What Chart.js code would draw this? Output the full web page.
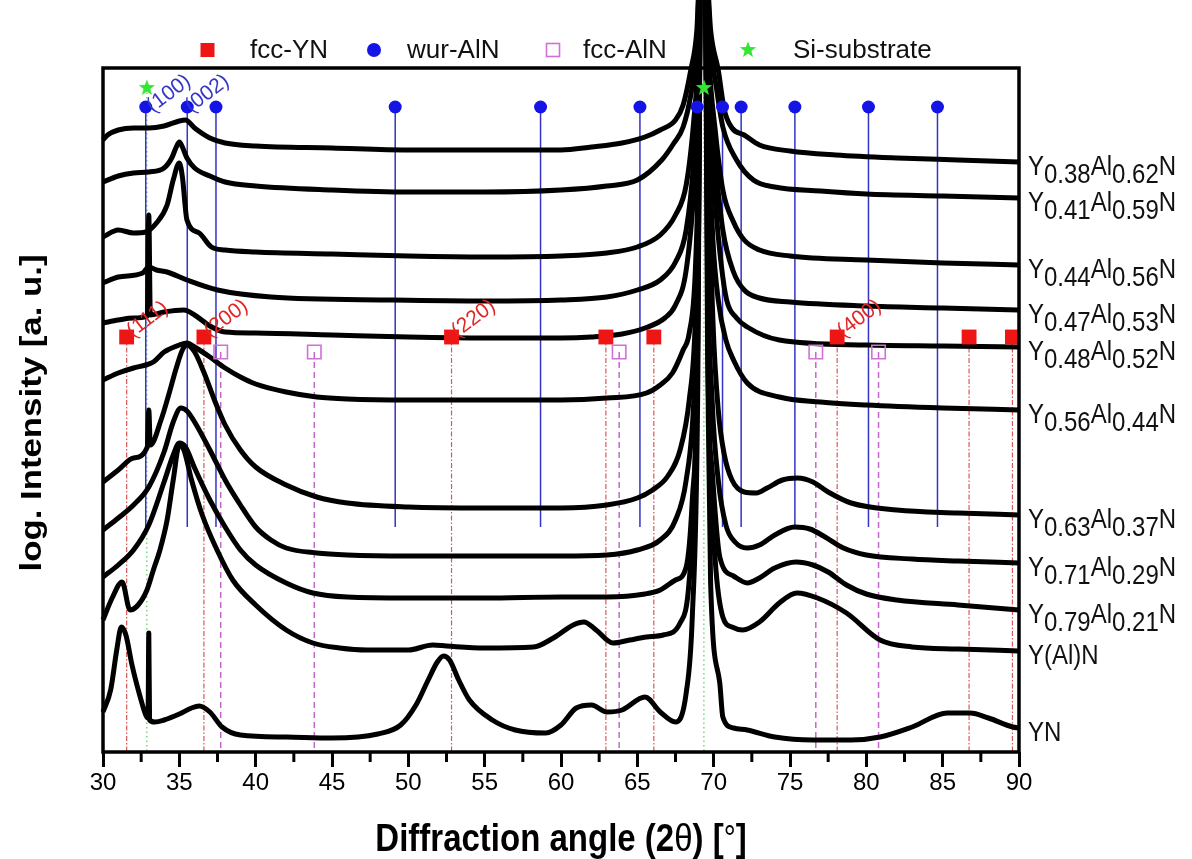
<!DOCTYPE html>
<html>
<head>
<meta charset="utf-8">
<title>XRD patterns of Y-Al-N films</title>
<script src="https://cdn.jsdelivr.net/npm/chart.js@4.4.1/dist/chart.umd.min.js"></script>
<style>
  html, body { margin: 0; padding: 0; background: #fff; }
  canvas { display: block; }
</style>
</head>
<body>
<canvas id="xrd" width="1192" height="859" style="width:1192px;height:859px"></canvas>
<script>
// ---- diffraction patterns: [2theta (deg), log intensity (a.u., offset per film)] ----
const y038 = [[30,612],[30.3,617],[31,622],[32,624],[33,624],[34,626],[35,631],[35.4,632],[36,624],[37,614],[38,609],[40,606],[45,604],[50,602],[55,602],[60,602],[62,605],[64,609],[65.5,615],[66.5,622],[67.5,632],[68.0,647],[68.5,682],[68.9,722],[69.15,800],[69.45,800],[69.8,722],[70.3,682],[70.7,642],[71.2,624],[72,617],[73,607],[75,601],[78,597],[82,594],[86,592],[90,590]];
const y041 = [[30,570],[31,576],[32,579],[33,580],[34,584],[34.5,594],[34.8,605],[35.0,610],[35.2,605],[35.5,594],[36,584],[37,576],[38,570],[40,566],[45,562],[50,560],[55,560],[60,562],[63,566],[65,572],[66.6,592],[67.4,609],[68.0,625],[68.5,657],[68.9,707],[69.15,800],[69.45,800],[69.8,707],[70.2,662],[70.6,625],[71.5,592],[72.6,572],[74,565],[77,561],[80,558],[85,556],[90,554]];
const y044 = [[30,515],[31,522],[32,519],[32.8,520],[33.5,529],[34.2,547],[34.6,572],[35.0,589],[35.2,575],[35.5,532],[36.3,519],[37.1,505],[38,502],[40,500],[45,498],[50,496],[55,495],[60,496],[63,499],[65,505],[66.5,517],[67.5,537],[68.2,567],[68.7,632],[69.0,702],[69.15,800],[69.45,800],[69.7,692],[70.1,622],[70.6,562],[71.3,530],[72,512],[73,502],[75,496],[80,492],[85,489],[90,487]];
const y047 = [[30,469],[31,475],[32.6,479],[33,485],[33.5,482],[34.2,480],[35.5,472],[37.5,462],[41,455],[49,452],[55,451],[60,452],[63,455],[65,462],[66.5,472],[67.5,490],[68.2,522],[68.7,592],[69.0,682],[69.15,800],[69.45,800],[69.7,672],[70.1,592],[70.6,522],[71.3,480],[72,462],[73,454],[75,450],[80,446],[85,444],[90,442]];
const y048 = [[30,429],[31,432],[32,434],[32.9,436],[33.0,537],[33.1,437],[34,440],[35.3,442],[36,437],[37,426],[38,420],[40,419],[45,417],[50,415],[55,414],[60,414],[62,415],[64,418],[65.5,424],[66.8,434],[67.5,447],[68.2,482],[68.7,562],[69.0,662],[69.15,800],[69.45,800],[69.7,652],[70.1,552],[70.5,487],[70.85,452],[71.5,434],[72.2,425],[74.3,412],[80,407],[85,406],[90,405]];
const y056 = [[30,372],[31,379],[32,384],[32.8,387],[33.3,390],[34,400],[35,407],[35.5,409],[36,405],[37,395],[38,384],[39,375],[40,368],[42,360],[44,355],[46,353],[50,352],[55,352],[60,352],[63,354],[65.6,359],[66.5,367],[67.3,379],[68.0,402],[68.4,419],[68.8,482],[69.05,632],[69.15,800],[69.45,800],[69.65,632],[69.95,512],[70.3,452],[70.8,412],[71.3,392],[72.2,369],[74.3,355],[77,350],[80,347],[85,344],[90,342]];
const y063 = [[30,270],[31,282],[32,294],[32.9,305],[33.0,342],[33.1,307],[33.8,332],[34.3,357],[34.8,384],[35.2,402],[35.5,407],[36,400],[36.6,380],[37.3,352],[38,327],[39,302],[40,285],[42,267],[44,255],[46,249],[50,245],[55,244],[60,244],[63,247],[65,254],[66,262],[67,276],[67.8,302],[68.4,352],[68.8,432],[69.05,602],[69.15,800],[69.45,800],[69.65,602],[69.95,432],[70.3,342],[70.7,297],[71.2,272],[72,260],[72.8,259],[73.5,264],[74.5,272],[75.5,274],[76.5,270],[77.5,260],[79,249],[82,242],[86,239],[90,237]];
const y071 = [[30,222],[31,234],[32,247],[33,265],[34,300],[34.6,330],[35.1,344],[35.5,341],[36,330],[37,302],[38,272],[39,247],[40,225],[41,212],[42,204],[44,199],[46,197],[50,196],[55,196],[60,196],[63,197],[65,202],[66.5,212],[67.5,232],[68.2,272],[68.7,352],[69.0,502],[69.15,800],[69.45,800],[69.6,502],[69.9,352],[70.3,272],[70.8,227],[71.4,210],[72.2,204],[73,207],[74,217],[75.3,225],[76.3,223],[77.3,215],[78.5,204],[80,197],[83,193],[86,191],[90,189]];
const y079 = [[30,175],[31,187],[32,202],[33,227],[34,270],[34.6,297],[35.0,309],[35.4,305],[36,284],[37,252],[38,225],[39,202],[40,187],[42,169],[43.75,159],[46,155],[50,154],[55,154],[60,155],[63,155],[65.5,158],[66.5,162],[67.5,172],[68.2,185],[68.6,252],[68.95,402],[69.15,800],[69.45,800],[69.6,402],[69.9,282],[70.4,195],[71.3,176],[72.2,169],[73,174],[74,184],[75.4,190],[76.5,187],[77.5,180],[78.7,167],[80,158],[82,152],[86,147],[90,142]];
const yAlN = [[30,132],[30.6,154],[31.25,170],[31.77,142],[32.3,147],[32.88,162],[33.3,182],[33.73,202],[34.2,232],[34.6,272],[35.0,307],[35.3,302],[35.8,272],[36.5,237],[37.47,202],[38.5,172],[40,147],[42,122],[43.75,109],[45.5,104],[47.3,102],[50,102],[51.6,107],[52.5,106],[55,104],[58.2,105],[59.5,114],[60.8,127],[61.5,130],[62.3,122],[63.4,109],[64.5,112],[65.6,115],[66.7,117],[67.8,129],[68.4,172],[68.8,302],[69.15,800],[69.45,800],[69.7,332],[70.1,192],[70.6,135],[71.2,125],[71.9,122],[73,130],[74.3,149],[75.45,159],[76.8,154],[78.7,139],[80.9,112],[83,105],[86,103],[90,101]];
const yYN = [[30,40],[30.5,62],[30.9,102],[31.2,125],[31.5,117],[31.9,87],[32.4,57],[32.8,37],[32.95,34],[33.0,119],[33.05,32],[33.4,30],[34,32],[35,38],[35.8,44],[36.3,46],[37,40],[37.8,25],[39,17],[42,15],[45,14],[48,18],[49.5,27],[50.5,47],[51.3,72],[51.9,90],[52.3,96],[52.7,92],[53.3,72],[54,52],[55.5,32],[57,22],[59,19],[60,27],[61,44],[62,47],[63,40],[64,42],[65.5,55],[66.5,40],[67.5,30],[68.2,59],[68.6,135],[68.95,352],[69.15,800],[69.45,800],[69.65,332],[69.8,169],[70.4,69],[70.6,35],[71.3,24],[72.2,22],[74,15],[76.5,12],[79,12],[80.9,15],[83,25],[85.3,39],[86.8,39],[88,34],[89.6,25],[90,24]];

const patterns = [y038, y041, y044, y047, y048, y056, y063, y071, y079, yAlN, yYN];

// film names, as [text, isSubscript] runs
const filmNames = [
  [['Y',0],['0.38',1],['Al',0],['0.62',1],['N',0]],
  [['Y',0],['0.41',1],['Al',0],['0.59',1],['N',0]],
  [['Y',0],['0.44',1],['Al',0],['0.56',1],['N',0]],
  [['Y',0],['0.47',1],['Al',0],['0.53',1],['N',0]],
  [['Y',0],['0.48',1],['Al',0],['0.52',1],['N',0]],
  [['Y',0],['0.56',1],['Al',0],['0.44',1],['N',0]],
  [['Y',0],['0.63',1],['Al',0],['0.37',1],['N',0]],
  [['Y',0],['0.71',1],['Al',0],['0.29',1],['N',0]],
  [['Y',0],['0.79',1],['Al',0],['0.21',1],['N',0]],
  [['Y(Al)N',0]],
  [['YN',0]]
];

// ---- reference reflections (2theta, deg) ----
const wurAlnPos = [32.80, 35.52, 37.40, 49.14, 58.66, 65.17, 68.92, 70.58, 71.80, 75.32, 80.14, 84.66];
const fccYnPos  = [31.55, 36.61, 52.83, 62.94, 66.08, 78.09, 86.73, 89.57];
const fccAlnPos = [37.71, 43.84, 63.81, 76.69, 80.80];
const siPos     = [32.87, 69.36];

// marker heights on the intensity axis
const wurAlnLevel = 645, wurAlnFloor = 225;
const fccYnLevel = 415, fccAlnLevel = 400, siLevel = 664;

// Miller indices written next to selected reflections
const wurAlnHkl = [['(100)', 32.80], ['(002)', 35.52]];
const fccYnHkl  = [['(111)', 31.55], ['(200)', 36.61], ['(220)', 52.83], ['(400)', 78.09]];

const legendNames = ['fcc-YN', 'wur-AlN', 'fcc-AlN', 'Si-substrate'];

const FONT = "'Liberation Sans', Arial, Helvetica, sans-serif";
const BLUE = '#1414e6', RED = '#ee1515', PINK = '#d070d8', GREEN = '#33e633';

function makeStar(size, color) {
  const c = document.createElement('canvas');
  c.width = c.height = size;
  const g = c.getContext('2d');
  const cx = size / 2, cy = size / 2, R = size / 2 - 0.5, r = R * 0.42;
  g.beginPath();
  for (let i = 0; i < 10; i++) {
    const a = -Math.PI / 2 + i * Math.PI / 5;
    const rad = i % 2 ? r : R;
    g.lineTo(cx + rad * Math.cos(a), cy + rad * Math.sin(a));
  }
  g.closePath();
  g.fillStyle = color;
  g.fill();
  return c;
}
const starImg = makeStar(18, GREEN);

// vertical drop lines: top -> floor, separated by gaps
function stems(positions, top, floor) {
  const d = [];
  positions.forEach(p => { d.push([p, top], [p, floor], [p, null]); });
  return d;
}

const datasets = [];

patterns.forEach(d => datasets.push({
  data: d, showLine: true, borderColor: '#000', borderWidth: 5,
  pointRadius: 0, cubicInterpolationMode: 'monotone', clip: false,
  borderJoinStyle: 'round', order: 1
}));

datasets.push(
  { data: stems(wurAlnPos, wurAlnLevel, wurAlnFloor), showLine: true, spanGaps: false,
    borderColor: '#3434c4', borderWidth: 1.5, pointRadius: 0, order: 2 },
  { data: stems(fccYnPos, fccYnLevel, 0), showLine: true, spanGaps: false,
    borderColor: 'rgba(214,70,70,0.9)', borderWidth: 1.2, borderDash: [5, 2, 1.5, 2], pointRadius: 0, order: 2 },
  { data: stems(fccAlnPos, fccAlnLevel, 0), showLine: true, spanGaps: false,
    borderColor: '#c566cc', borderWidth: 1.5, borderDash: [6, 4], pointRadius: 0, order: 2 },
  { data: stems(siPos, siLevel, 0), showLine: true, spanGaps: false,
    borderColor: '#55cc55', borderWidth: 1.2, borderDash: [1.5, 3], pointRadius: 0, order: 2 }
);

datasets.push(
  { data: wurAlnPos.map(p => [p, wurAlnLevel]), showLine: false, pointStyle: 'circle',
    pointRadius: 6.5, backgroundColor: BLUE, borderWidth: 0, clip: false, order: 0 },
  { data: fccYnPos.map(p => [p, fccYnLevel]), showLine: false, pointStyle: 'rect',
    pointRadius: 10.5, backgroundColor: RED, borderWidth: 0, clip: false, order: 0 },
  { data: fccAlnPos.map(p => [p, fccAlnLevel]), showLine: false, pointStyle: 'rect',
    pointRadius: 9.5, backgroundColor: 'rgba(255,255,255,0)', borderColor: PINK, borderWidth: 1.6, clip: false, order: 0 },
  { data: siPos.map(p => [p, siLevel]), showLine: false, pointStyle: starImg,
    pointRadius: 9, clip: false, order: 0 }
);

function runs(ctx, parts, x, y, subDy) {
  let cx = x;
  parts.forEach(([t, sub]) => {
    ctx.fillText(t, cx, y + (sub ? subDy : 0));
    cx += ctx.measureText(t).width;
  });
  return cx;
}

const decor = {
  id: 'decor',
  afterDraw(chart) {
    const ctx = chart.ctx;
    const a = chart.chartArea;
    const xs = chart.scales.x, ys = chart.scales.y;

    // frame
    ctx.save();
    ctx.strokeStyle = '#000';
    ctx.lineWidth = 3.5;
    ctx.strokeRect(a.left, a.top, a.right - a.left, a.bottom - a.top);

    // minor ticks
    ctx.lineWidth = 3;
    for (let v = 32.5; v < 90; v += 5) {
      const px = xs.getPixelForValue(v);
      ctx.beginPath();
      ctx.moveTo(px, a.bottom);
      ctx.lineTo(px, a.bottom + 10);
      ctx.stroke();
    }
    ctx.restore();

    // legend row above the frame
    ctx.save();
    ctx.font = '26px ' + FONT;
    ctx.fillStyle = '#111';
    ctx.textBaseline = 'middle';
    const ly = 50;
    ctx.fillStyle = RED; ctx.fillRect(200.5, ly - 7, 14, 14);
    ctx.fillStyle = BLUE; ctx.beginPath(); ctx.arc(374, ly, 7, 0, Math.PI * 2); ctx.fill();
    ctx.strokeStyle = PINK; ctx.lineWidth = 1.6; ctx.strokeRect(546.5, ly - 6.5, 13, 13);
    ctx.drawImage(starImg, 748 - 9, ly - 9);
    ctx.fillStyle = '#111';
    const lx = [250, 407, 583, 793];
    legendNames.forEach((t, i) => ctx.fillText(t, lx[i], ly + 1));
    ctx.restore();

    // axis titles
    ctx.save();
    ctx.fillStyle = '#000';
    ctx.font = 'bold 30px ' + FONT;
    ctx.translate(33, (a.top + a.bottom) / 2 + 3);
    ctx.rotate(-Math.PI / 2);
    ctx.scale(1.16, 1);
    ctx.textAlign = 'center';
    ctx.textBaseline = 'middle';
    ctx.fillText('log. Intensity [a. u.]', 0, 0);
    ctx.restore();

    ctx.save();
    ctx.fillStyle = '#000';
    const xt = [['Diffraction angle (2', 'bold 33px '], ['\u03b8', '33px '], [') [', 'bold 33px '], ['\u00b0', '30px '], [']', 'bold 33px ']];
    let w = 0;
    xt.forEach(([t, f]) => { ctx.font = f + FONT; w += ctx.measureText(t).width; });
    ctx.translate((a.left + a.right) / 2 - w / 2, 851);
    ctx.scale(1, 1.2);
    let cx = 0;
    xt.forEach(([t, f]) => { ctx.font = f + FONT; ctx.fillText(t, cx, 0); cx += ctx.measureText(t).width; });
    ctx.restore();

    // film names at the right end of each pattern
    ctx.save();
    ctx.fillStyle = '#111';
    ctx.font = '24px ' + FONT;
    patterns.forEach((d, i) => {
      const yEnd = ys.getPixelForValue(d[d.length - 1][1]);
      ctx.save();
      ctx.translate(a.right + 9, yEnd + 13);
      ctx.scale(1, 1.15);
      runs(ctx, filmNames[i], 0, 0, 7);
      ctx.restore();
    });
    ctx.restore();

    // Miller indices
    ctx.save();
    ctx.font = '21px ' + FONT;
    const rot = -37 * Math.PI / 180;
    const wy = ys.getPixelForValue(wurAlnLevel);
    const fy = ys.getPixelForValue(fccYnLevel);
    ctx.fillStyle = '#3535c8';
    wurAlnHkl.forEach(([t, p], i) => {
      ctx.save();
      ctx.translate(xs.getPixelForValue(p) + (i === 0 ? 7 : 4), wy + 6);
      ctx.rotate(rot);
      ctx.fillText(t, 0, 0);
      ctx.restore();
    });
    ctx.fillStyle = '#e02525';
    fccYnHkl.forEach(([t, p]) => {
      ctx.save();
      ctx.translate(xs.getPixelForValue(p) + 6, fy + 1);
      ctx.rotate(rot);
      ctx.fillText(t, 0, 0);
      ctx.restore();
    });
    ctx.restore();
  }
};

new Chart(document.getElementById('xrd'), {
  type: 'scatter',
  data: { datasets },
  options: {
    responsive: false,
    animation: false,
    devicePixelRatio: 1,
    layout: { padding: { left: 103, right: 173, top: 68, bottom: 0 } },
    plugins: { legend: { display: false }, tooltip: { enabled: false } },
    scales: {
      x: {
        type: 'linear', min: 30, max: 90, position: 'bottom',
        border: { display: false },
        grid: { display: true, drawOnChartArea: false, drawTicks: true, tickLength: 15, tickWidth: 3, color: '#000' },
        ticks: { stepSize: 5, autoSkip: false, maxRotation: 0, padding: 2, color: '#000', font: { family: FONT, size: 24 } },
        afterFit(scale) { scale.height = 107; }
      },
      y: { type: 'linear', min: 0, max: 684, display: false }
    }
  },
  plugins: [decor]
});
</script>
</body>
</html>
